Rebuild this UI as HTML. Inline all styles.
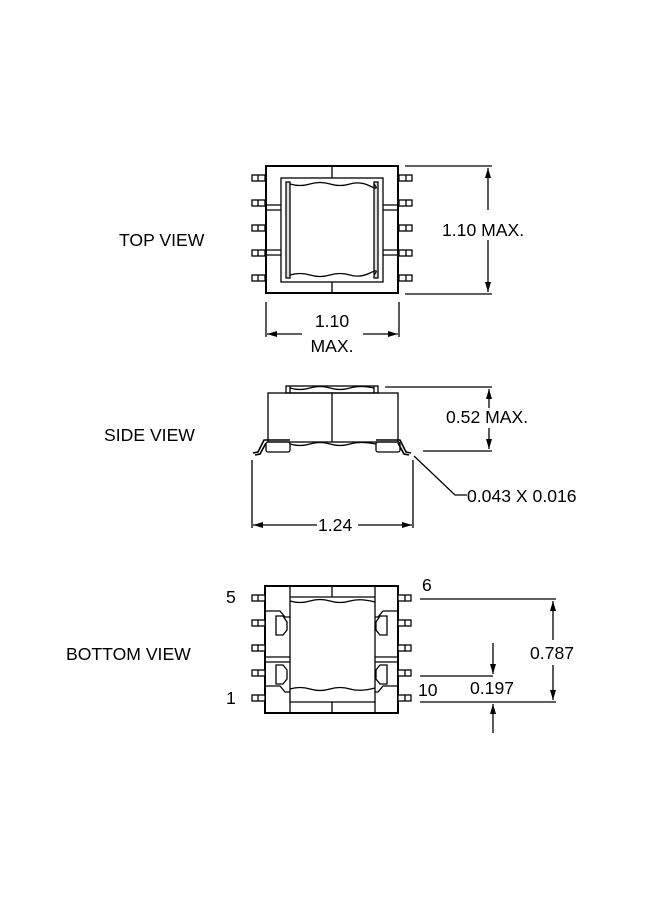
<!DOCTYPE html>
<html><head><style>html,body{margin:0;padding:0;background:#fff}svg{display:block}</style></head>
<body>
<svg width="650" height="900" viewBox="0 0 650 900" xmlns="http://www.w3.org/2000/svg" font-family="Liberation Sans, sans-serif" font-size="17.6" fill="none" stroke="#000">
<defs>
<marker id="a" viewBox="0 0 10 6" refX="10" refY="3" markerWidth="10" markerHeight="6" orient="auto-start-reverse" markerUnits="userSpaceOnUse"><path d="M0,0 L10,3 L0,6 z" fill="#000" stroke="none"/></marker>
</defs>
<g fill="#000" stroke="none">
<text x="119" y="246">TOP VIEW</text>
<text x="104" y="441">SIDE VIEW</text>
<text x="66" y="660">BOTTOM VIEW</text>
</g>

<!-- TOP VIEW -->
<g stroke-width="1.3">
<rect x="266" y="166" width="132" height="127" stroke-width="2"/>
<rect x="281" y="178" width="102" height="104"/>
<rect x="286" y="182" width="4" height="96" fill="#ddd"/>
<rect x="374" y="182" width="4" height="96" fill="#ddd"/>
<path d="M290,184 q10,3 20,0 t20,0 t20,0 t20,2 t4,-2"/>
<path d="M290,275 q10,-3 20,0 t20,0 t20,0 t20,-2 t4,2"/>
<path d="M332,166 V178 M332,282 V293"/>
<path d="M266,205 H281 M266,210 H281 M266,250 H281 M266,255 H281 M383,205 H398 M383,210 H398 M383,250 H398 M383,255 H398"/>
</g>
<g stroke-width="1.3" fill="#fff">
<rect x="252" y="175" width="13" height="6"/><rect x="252" y="200" width="13" height="6"/><rect x="252" y="225" width="13" height="6"/><rect x="252" y="250" width="13" height="6"/><rect x="252" y="275" width="13" height="6"/>
<rect x="399" y="175" width="13" height="6"/><rect x="399" y="200" width="13" height="6"/><rect x="399" y="225" width="13" height="6"/><rect x="399" y="250" width="13" height="6"/><rect x="399" y="275" width="13" height="6"/>
<path d="M258,175 V181 M258,200 V206 M258,225 V231 M258,250 V256 M258,275 V281 M406,175 V181 M406,200 V206 M406,225 V231 M406,250 V256 M406,275 V281"/>
</g>
<g stroke-width="1.3">
<path d="M405,166 H492 M405,294 H492"/>
<path d="M488,168 V210 M488,240 V292" marker-start="url(#a)" marker-end="url(#a)"/>
<path d="M266,302 V337 M399,302 V337"/>
<path d="M267,334 H302" marker-start="url(#a)"/>
<path d="M363,334 H398" marker-end="url(#a)"/>
</g>
<g fill="#000" stroke="none">
<text x="442" y="236">1.10 MAX.</text>
<text x="332" y="327" text-anchor="middle">1.10</text>
<text x="332" y="352" text-anchor="middle">MAX.</text>
</g>

<!-- SIDE VIEW -->
<g stroke-width="1.3">
<rect x="286" y="386" width="92" height="7"/>
<path d="M290,386 V393 M374,386 V393"/>
<path d="M290,388 q10,3 20,0 t20,0 t20,0 t24,0"/>
<rect x="268" y="393" width="130" height="49"/>
<path d="M332,393 V442"/>
<rect x="266" y="442" width="24" height="10" rx="2"/>
<rect x="376" y="442" width="24" height="10" rx="2"/>
<path d="M290,444 q10,3 20,0 t20,0 t20,0 t26,0"/>
<path d="M253,453 L258,452 L264,440 L290,440 M255,455 L260,454 L266,443" stroke-width="1.6"/>
<path d="M411,453 L406,452 L400,440 L376,440 M409,455 L404,454 L398,443" stroke-width="1.6"/>
<path d="M385,387 H492 M423,451 H492"/>
<path d="M489,389 V408 M489,428 V449" marker-start="url(#a)" marker-end="url(#a)"/>
<path d="M252,460 V528 M413,460 V528"/>
<path d="M253,525 H317" marker-start="url(#a)"/>
<path d="M358,525 H412" marker-end="url(#a)"/>
<path d="M414,456 L455,495 H467"/>
</g>
<g fill="#000" stroke="none">
<text x="446" y="423">0.52 MAX.</text>
<text x="318" y="531">1.24</text>
<text x="467" y="502">0.043 X 0.016</text>
</g>

<!-- BOTTOM VIEW -->
<g stroke-width="1.3">
<rect x="265" y="586" width="133" height="127" stroke-width="2"/>
<path d="M290,586 V713 M375,586 V713"/>
<path d="M290,597 H375 M290,702 H375"/>
<path d="M332,586 V597 M332,702 V713"/>
<path d="M290,601 q10,3 20,0 t20,0 t20,0 t25,1"/>
<path d="M290,689 q10,-3 20,0 t20,0 t20,0 t25,-1"/>
<path d="M265,611 H280 L285,617 H290 M265,662 H290 M265,686 H280 L285,692 H290 M290,657 H265"/>
<path d="M398,611 H383 L378,617 H375 M398,662 H375 M398,686 H383 L378,692 H375 M375,657 H398"/>
<path d="M276,616 H283 L287,622 V630 L283,635 H276 Z M276,665 H283 L287,670 V679 L283,684 H276 Z"/>
<path d="M387,616 H380 L376,622 V630 L380,635 H387 Z M387,665 H380 L376,670 V679 L380,684 H387 Z"/>
</g>
<g stroke-width="1.3" fill="#fff">
<rect x="252" y="595" width="13" height="6"/><rect x="252" y="620" width="13" height="6"/><rect x="252" y="645" width="13" height="6"/><rect x="252" y="670" width="13" height="6"/><rect x="252" y="695" width="13" height="6"/>
<rect x="398" y="595" width="13" height="6"/><rect x="398" y="620" width="13" height="6"/><rect x="398" y="645" width="13" height="6"/><rect x="398" y="670" width="13" height="6"/><rect x="398" y="695" width="13" height="6"/>
<path d="M258,595 V601 M258,620 V626 M258,645 V651 M258,670 V676 M258,695 V701 M405,595 V601 M405,620 V626 M405,645 V651 M405,670 V676 M405,695 V701"/>
</g>
<g stroke-width="1.3">
<path d="M420,599 H556 M420,676 H493 M420,702 H556"/>
<path d="M553,601 V640 M553,665 V700" marker-start="url(#a)" marker-end="url(#a)"/>
<path d="M493,643 V674" marker-end="url(#a)"/>
<path d="M493,733 V704" marker-end="url(#a)"/>
</g>
<g fill="#000" stroke="none">
<text x="226" y="603">5</text>
<text x="226" y="704">1</text>
<text x="422" y="591">6</text>
<text x="418" y="696">10</text>
<text x="470" y="694">0.197</text>
<text x="530" y="659">0.787</text>
</g>
</svg>
</body></html>
